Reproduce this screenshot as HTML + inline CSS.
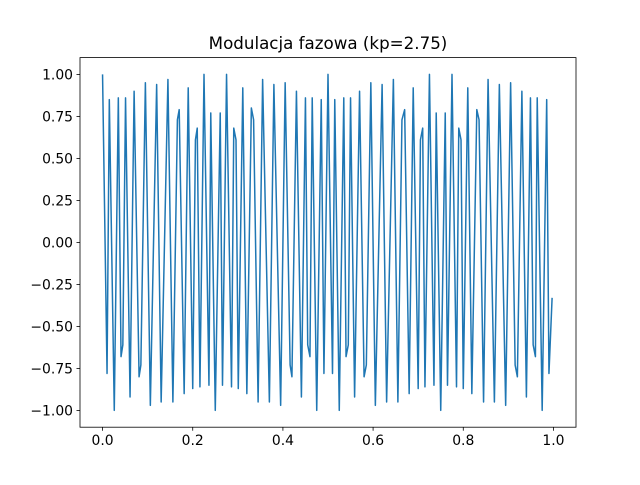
<!DOCTYPE html>
<html><head><meta charset="utf-8"><style>
html,body{margin:0;padding:0;background:#fff;}
svg text{font-family:"DejaVu Sans","Liberation Sans",sans-serif;fill:#000;}
</style></head><body>
<svg id="chart" width="640" height="480" viewBox="0 0 640 480" xmlns="http://www.w3.org/2000/svg">
<rect width="640" height="480" fill="#fff"/>
<text x="328" y="49" text-anchor="middle" font-size="16.7">Modulacja fazowa (kp=2.75)</text>
<g id="xticks"></g>
<g id="yticks"></g>
<path id="line" fill="none" stroke="#1f77b4" stroke-width="1.5" stroke-linejoin="round"/>
<rect x="80" y="57.6" width="496" height="369.6" fill="none" stroke="#000" stroke-width="0.8"/>
</svg>
<script>
const tVals=[0,.010,.015,.026,.035,.041,.045,.051,.061,.070,.081,.085,.095,.106,.120,.130,.145,.156,.166,.170,.181,.190,.200,.206,.210,.216,.225,.236,.240,.250,.261,.266,.275,.286,.291,.296,.301,.311,.320,.330,.335,.345,.355,.370,.380,.395,.405,.416,.420,.430,.441,.450,.455,.460,.465,.475,.485,.491,.500,.510,.515,.525,.535,.540,.545,.550,.559,.570,.580,.585,.595,.605,.620,.630,.645,.655,.664,.670,.680,.689,.700,.705,.710,.715,.725,.735,.740,.750,.760,.765,.775,.785,.790,.795,.800,.810,.819,.830,.835,.845,.855,.869,.880,.894,.905,.915,.920,.930,.940,.949,.955,.960,.964,.975,.985,.990,.997];
const sVals=[1,-.78,.85,-1,.86,-.68,-.61,.86,-.92,.90,-.80,-.73,.95,-.97,.94,-.95,.97,-.95,.73,.79,-.90,.92,-.87,.61,.68,-.86,1,-.85,.77,-1,.77,-.85,1,-.86,.68,.61,-.87,.92,-.90,.80,.73,-.95,.97,-.95,.94,-.97,.95,-.73,-.80,.90,-.92,.86,-.61,-.68,.86,-1,.85,-.78,1,-.78,.85,-1,.86,-.68,-.61,.86,-.92,.90,-.80,-.73,.95,-.97,.94,-.95,.97,-.95,.73,.79,-.90,.92,-.87,.61,.68,-.86,1,-.85,.77,-1,.77,-.85,1,-.86,.68,.61,-.87,.92,-.90,.79,.73,-.95,.97,-.95,.94,-.97,.95,-.73,-.80,.90,-.92,.86,-.61,-.68,.86,-1,.85,-.78,-.33];
const xTickVals=[0,0.2,0.4,0.6,0.8,1.0];
const xTickLabels=["0.0","0.2","0.4","0.6","0.8","1.0"];
const yTickVals=[-1,-0.75,-0.5,-0.25,0,0.25,0.5,0.75,1];
const yTickLabels=["−1.00","−0.75","−0.50","−0.25","0.00","0.25","0.50","0.75","1.00"];
const NS="http://www.w3.org/2000/svg";
const L=80,R=576,T=57.6,B=427.2,X0=-0.05,X1=1.05,Y0=-1.1,Y1=1.1;
function sx(v){return L+(v-X0)/(X1-X0)*(R-L);}
function sy(v){return B-(v-Y0)/(Y1-Y0)*(B-T);}
let d="";
for(let i=0;i<tVals.length;i++){d+=(i?"L":"M")+sx(tVals[i]).toFixed(2)+","+sy(sVals[i]).toFixed(2);}
document.getElementById("line").setAttribute("d",d);
const xg=document.getElementById("xticks"),yg=document.getElementById("yticks");
xTickVals.forEach((v,i)=>{
const x=sx(v);
const ln=document.createElementNS(NS,"line");
ln.setAttribute("x1",x);ln.setAttribute("x2",x);ln.setAttribute("y1",B);ln.setAttribute("y2",B+3.5);
ln.setAttribute("stroke","#000");ln.setAttribute("stroke-width","0.8");


xg.appendChild(ln);
const t=document.createElementNS(NS,"text");
t.setAttribute("x",x);t.setAttribute("y",B+18);t.setAttribute("text-anchor","middle");t.setAttribute("font-size","13.9");
t.textContent=xTickLabels[i];


xg.appendChild(t);
});
yTickVals.forEach((v,i)=>{
const y=sy(v);
const ln=document.createElementNS(NS,"line");
ln.setAttribute("x1",L-3.5);ln.setAttribute("x2",L);ln.setAttribute("y1",y);ln.setAttribute("y2",y);
ln.setAttribute("stroke","#000");ln.setAttribute("stroke-width","0.8");


yg.appendChild(ln);
const t=document.createElementNS(NS,"text");
t.setAttribute("x",L-7);t.setAttribute("y",y+5);t.setAttribute("text-anchor","end");t.setAttribute("font-size","13.9");
t.textContent=yTickLabels[i];


yg.appendChild(t);
});
</script>
</body></html>
